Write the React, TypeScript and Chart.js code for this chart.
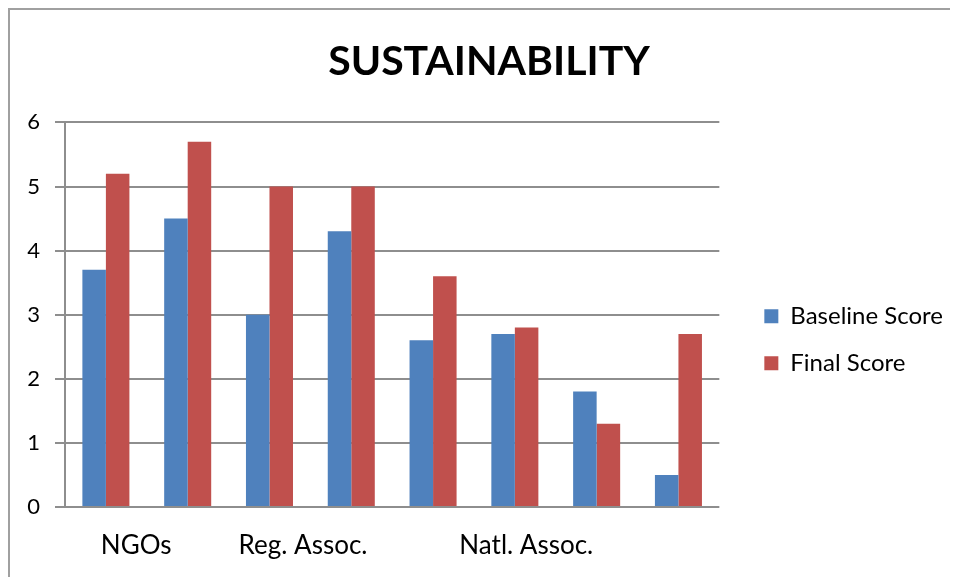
import React, { useEffect, useRef } from "react";
import { Chart, registerables } from "chart.js";

Chart.register(...registerables);

const CATEGORIES = ["1", "2", "3", "4", "5", "6", "7", "8"];
const BASELINE = [3.7, 4.5, 3.0, 4.3, 2.6, 2.7, 1.8, 0.5];
const FINAL = [5.2, 5.7, 5.0, 5.0, 3.6, 2.8, 1.3, 2.7];
const X_LABELS = ["NGOs", "Reg. Assoc.", "Natl. Assoc."];
const X_LABEL_AT = [0.37, 2.41, 5.14];
const Y_MIN = 0;
const Y_MAX = 6;
const Y_STEP = 1;

const FONT = "Lato, 'Open Sans', sans-serif";
const GRID = "#8e8e8e";

export default function App() {
  const ref = useRef<HTMLCanvasElement | null>(null);

  useEffect(() => {
    if (!ref.current) return;
    const chart = new Chart(ref.current, {
      type: "bar",
      data: {
        labels: CATEGORIES,
        datasets: [
          {
            label: "Baseline Score",
            data: BASELINE,
            backgroundColor: "#4F81BD",
            borderWidth: 0,
            categoryPercentage: 0.575,
            barPercentage: 1,
          },
          {
            label: "Final Score",
            data: FINAL,
            backgroundColor: "#C0504D",
            borderWidth: 0,
            categoryPercentage: 0.575,
            barPercentage: 1,
          },
        ],
      },
      options: {
        responsive: false,
        animation: false,
        layout: { padding: { top: 0, left: 15, right: 5, bottom: 0 } },
        plugins: {
          tooltip: { enabled: false },
          title: {
            display: true,
            text: "SUSTAINABILITY",
            color: "#000",
            font: { family: FONT, size: 41, weight: "bold", lineHeight: 1.2 },
            padding: { top: 27, bottom: 36.2 },
          },
          legend: {
            position: "right",
            align: "center",
            fullSize: false,
            maxWidth: 260,
            title: { display: true, text: "", font: { size: 10, lineHeight: 1.2 }, padding: 19 },
            labels: {
              boxWidth: 14,
              boxHeight: 14,
              padding: 23,
              color: "#000",
              font: { family: FONT, size: 24 },
            },
          },
        },
        scales: {
          x: {
            type: "category",
            display: false,
            offset: true,
            grid: { display: false },
          },
          xl: {
            type: "linear",
            axis: "x",
            position: "bottom",
            offset: false,
            min: -0.5,
            max: 7.5,
            bounds: "data",
            grid: { display: false, drawTicks: false },
            border: { display: false },
            afterBuildTicks: (s: any) => {
              s.ticks = X_LABEL_AT.map((v) => ({ value: v }));
            },
            afterFit: (s: any) => {
              s.height = 70;
            },
            ticks: {
              autoSkip: false,
              maxRotation: 0,
              minRotation: 0,
              padding: 23,
              color: "#000",
              font: { family: FONT, size: 26 },
              callback: (_v: any, i: number) => X_LABELS[i],
            },
          },
          y: {
            min: Y_MIN,
            max: Y_MAX,
            afterFit: (s: any) => {
              s.width = 40;
            },
            ticks: {
              stepSize: Y_STEP,
              padding: 15,
              color: "#000",
              font: { family: FONT, size: 22 },
            },
            grid: { color: GRID, lineWidth: 2, tickLength: 10 },
            border: { display: true, color: GRID, width: 2 },
          },
          yr: {
            type: "linear",
            position: "right",
            min: 0,
            max: 1,
            grid: { display: false, drawTicks: false },
            border: { display: false },
            ticks: { display: false },
            afterFit: (s: any) => {
              s.width = 22;
            },
          },
        },
      },
    } as any);
    return () => chart.destroy();
  }, []);

  return (
    <div
      style={{
        width: 950,
        height: 569,
        boxSizing: "border-box",
        borderLeft: "2px solid #a0a0a0",
        borderTop: "2px solid #a0a0a0",
        overflow: "hidden",
        background: "#fff",
      }}
    >
      <canvas ref={ref} width={948} height={567} style={{ display: "block" }} />
    </div>
  );
}
